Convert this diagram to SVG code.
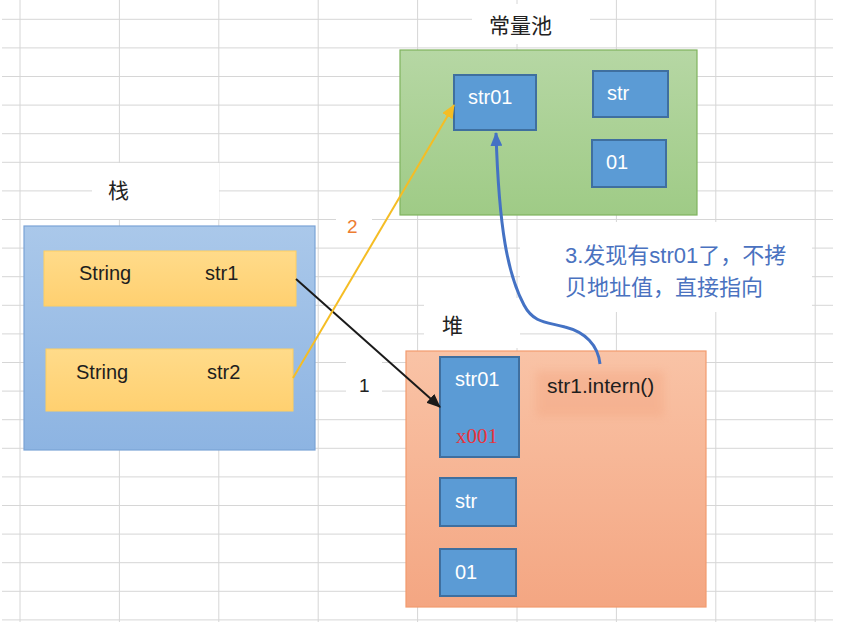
<svg xmlns="http://www.w3.org/2000/svg" width="853" height="630" viewBox="0 0 853 630">
<defs>
<style>
.grid line{stroke:#d6d6d6;stroke-width:1}
.lbl{font-family:"Noto Sans CJK SC","Liberation Sans",sans-serif;font-size:21px;fill:#222}
.t{font-family:"Liberation Sans","Noto Sans",sans-serif;font-size:20px}
.t21{font-size:21px}
.w{fill:#ffffff}
.blk{fill:#1e1e1e}
.cell{fill:#5b9bd5;stroke:#3f6f9f;stroke-width:2}
.note{font-family:"Liberation Sans","Noto Sans CJK SC",sans-serif;font-size:22px;fill:#4a72c0}
</style>
<linearGradient id="gGreen" x1="0" y1="0" x2="0" y2="1"><stop offset="0" stop-color="#b6d7a4"/><stop offset="1" stop-color="#9fcb86"/></linearGradient>
<linearGradient id="gBlue" x1="0" y1="0" x2="0" y2="1"><stop offset="0" stop-color="#aac8ea"/><stop offset="1" stop-color="#8db4e2"/></linearGradient>
<linearGradient id="gYel" x1="0" y1="0" x2="0" y2="1"><stop offset="0" stop-color="#ffdb8a"/><stop offset="1" stop-color="#ffd070"/></linearGradient>
<linearGradient id="gOr" x1="0" y1="0" x2="0" y2="1"><stop offset="0" stop-color="#f9c3a6"/><stop offset="1" stop-color="#f4a682"/></linearGradient>
<filter id="blur" x="-20%" y="-30%" width="140%" height="160%"><feGaussianBlur stdDeviation="4"/></filter>
<marker id="mBlack" markerUnits="userSpaceOnUse" markerWidth="14" markerHeight="12" refX="13" refY="6" orient="auto"><path d="M0,0 L14,6 L0,12 z" fill="#1a1a1a"/></marker>
<marker id="mYel" markerUnits="userSpaceOnUse" markerWidth="14" markerHeight="12" refX="13" refY="6" orient="auto"><path d="M0,0 L14,6 L0,12 z" fill="#f5bd24"/></marker>
<marker id="mBlu" markerUnits="userSpaceOnUse" markerWidth="14" markerHeight="12" refX="13" refY="6" orient="auto"><path d="M0,0 L14,6 L0,12 z" fill="#4472c4"/></marker>
</defs>
<rect width="853" height="630" fill="#ffffff"/>
<g class="grid">
<line x1="2" y1="19.3" x2="833" y2="19.3"/><line x1="2" y1="47.9" x2="833" y2="47.9"/><line x1="2" y1="76.5" x2="833" y2="76.5"/><line x1="2" y1="105.1" x2="833" y2="105.1"/><line x1="2" y1="133.7" x2="833" y2="133.7"/><line x1="2" y1="162.3" x2="833" y2="162.3"/><line x1="2" y1="190.9" x2="833" y2="190.9"/><line x1="2" y1="219.5" x2="833" y2="219.5"/><line x1="2" y1="248.1" x2="833" y2="248.1"/><line x1="2" y1="276.7" x2="833" y2="276.7"/><line x1="2" y1="305.3" x2="833" y2="305.3"/><line x1="2" y1="333.9" x2="833" y2="333.9"/><line x1="2" y1="362.5" x2="833" y2="362.5"/><line x1="2" y1="391.1" x2="833" y2="391.1"/><line x1="2" y1="419.7" x2="833" y2="419.7"/><line x1="2" y1="448.3" x2="833" y2="448.3"/><line x1="2" y1="476.9" x2="833" y2="476.9"/><line x1="2" y1="505.5" x2="833" y2="505.5"/><line x1="2" y1="534.1" x2="833" y2="534.1"/><line x1="2" y1="562.7" x2="833" y2="562.7"/><line x1="2" y1="591.3" x2="833" y2="591.3"/><line x1="2" y1="619.9" x2="833" y2="619.9"/>
<line x1="20" y1="0" x2="20" y2="622"/><line x1="119.4" y1="0" x2="119.4" y2="622"/><line x1="218.8" y1="0" x2="218.8" y2="622"/><line x1="318.2" y1="0" x2="318.2" y2="622"/><line x1="417.6" y1="0" x2="417.6" y2="622"/><line x1="517" y1="0" x2="517" y2="622"/><line x1="616.4" y1="0" x2="616.4" y2="622"/><line x1="715.8" y1="0" x2="715.8" y2="622"/><line x1="815.2" y1="0" x2="815.2" y2="622"/>
</g>
<g id="label-patches">
<rect class="w" x="92" y="163" width="127" height="56"/>
<rect class="w" x="472" y="4" width="118" height="40"/>
<rect class="w" x="520" y="222" width="292" height="90"/>
<rect class="w" x="424" y="298" width="96" height="50"/>
<rect class="w" x="346" y="356" width="36" height="58"/>
<rect class="w" x="336" y="206" width="36" height="32"/>
</g>
<g id="constant-pool">
<rect x="400" y="50" width="297" height="165" fill="url(#gGreen)" stroke="#7fb35e" stroke-width="1.2"/>
<text class="lbl" x="489" y="33">常量池</text>
<g id="cp-str01"><rect class="cell" x="454" y="75" width="82" height="55"/><text class="t w" x="468" y="104">str01</text></g>
<g id="cp-str"><rect class="cell" x="593" y="71" width="75" height="46"/><text class="t w" x="607" y="100">str</text></g>
<g id="cp-01"><rect class="cell" x="592" y="140" width="74" height="47"/><text class="t w" x="606" y="169">01</text></g>
</g>
<g id="stack">
<rect x="24" y="226" width="291" height="224" fill="url(#gBlue)" stroke="#7ba3d6" stroke-width="1.2"/>
<text class="lbl" x="108" y="198">栈</text>
<g id="row-str1"><rect x="44" y="251" width="252" height="55" fill="url(#gYel)" stroke="#ffcf60" stroke-width="1"/><text class="t blk" x="79" y="280">String</text><text class="t blk" x="205" y="280">str1</text></g>
<g id="row-str2"><rect x="46" y="349" width="247" height="62" fill="url(#gYel)" stroke="#ffcf60" stroke-width="1"/><text class="t blk" x="76" y="379">String</text><text class="t blk" x="207" y="379">str2</text></g>
</g>
<g id="heap">
<rect x="406" y="351" width="300" height="256" fill="url(#gOr)" stroke="#f29b6e" stroke-width="1.2"/>
<text class="lbl" x="442" y="333">堆</text>
<rect x="536" y="371" width="128" height="46" fill="#f3a47f" opacity="0.4" filter="url(#blur)"/>
<text class="t t21 blk" x="547" y="393">str1.intern()</text>
<g id="heap-str01"><rect class="cell" x="440" y="357" width="79" height="100"/><text class="t w" x="455" y="386">str01</text><text x="456" y="443" font-family="Liberation Serif,serif" font-size="21" fill="#e8343c">x001</text></g>
<g id="heap-str"><rect class="cell" x="440" y="478" width="76" height="48"/><text class="t w" x="455" y="508">str</text></g>
<g id="heap-01"><rect class="cell" x="440" y="549" width="76" height="47"/><text class="t w" x="455" y="579">01</text></g>
</g>
<g id="connectors">
<line x1="296" y1="279" x2="440" y2="407" stroke="#1a1a1a" stroke-width="2" marker-end="url(#mBlack)"/>
<line x1="293" y1="378" x2="454" y2="105" stroke="#f5bd24" stroke-width="2" marker-end="url(#mYel)"/>
<path d="M600,364 C598,345 585,332 565,327 C548,322 534,324 524,305 C508,275 499,230 496,133" fill="none" stroke="#4472c4" stroke-width="3" marker-end="url(#mBlu)"/>
<text x="359" y="392" font-family="Liberation Sans,sans-serif" font-size="19" fill="#222">1</text>
<text x="347" y="233" font-family="Liberation Sans,sans-serif" font-size="19" fill="#ed7d31">2</text>
<text class="note" x="565" y="263">3.发现有str01了，不拷</text>
<text class="note" x="565" y="295">贝地址值，直接指向</text>
</g>
</svg>
